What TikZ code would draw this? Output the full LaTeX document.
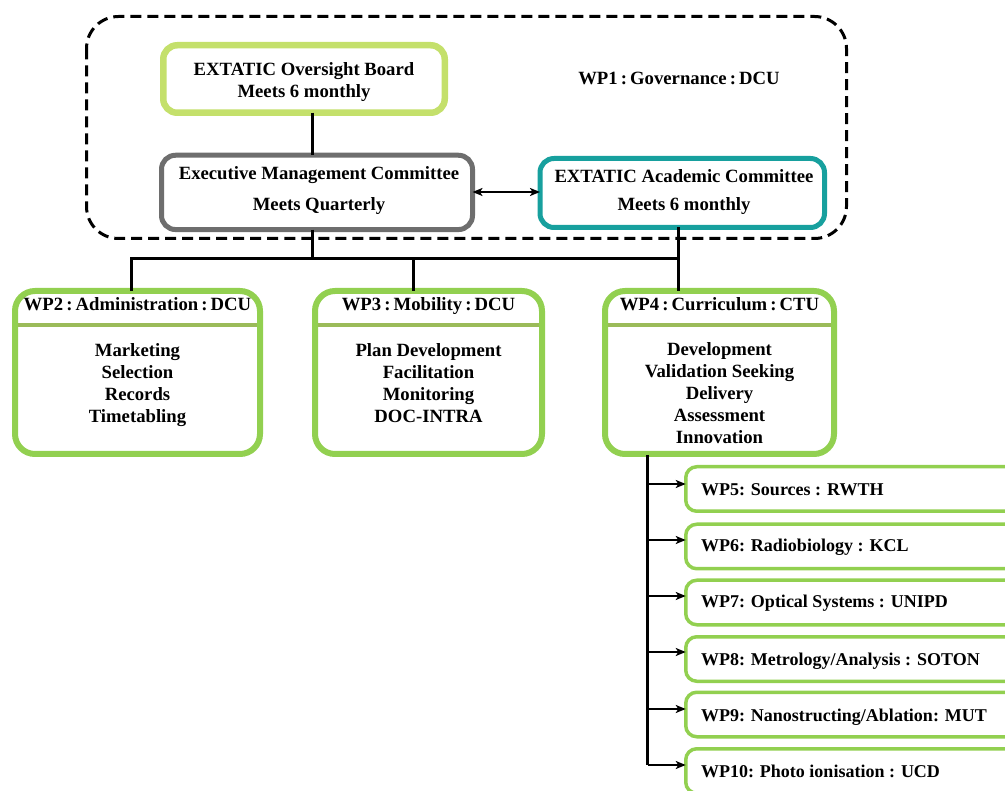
\documentclass[tikz,border=0pt]{standalone}
\usepackage{fontspec}
\setmainfont{Liberation Serif}
\usetikzlibrary{arrows.meta}
\definecolor{lgreen}{HTML}{C4E06B}
\definecolor{wgreen}{HTML}{92D050}
\definecolor{dgreen}{HTML}{9BBB59}
\definecolor{mgray}{HTML}{6E6E6E}
\definecolor{teal2}{HTML}{17A09E}
\tikzset{
  txt/.style={font=\fontsize{18.7}{22}\selectfont\bfseries, align=center, inner sep=0pt, outer sep=0pt},
  subtxt/.style={font=\fontsize{18}{22}\selectfont\bfseries, inner sep=0pt, outer sep=0pt, anchor=base west},
  topbox/.style={draw, rounded corners=14pt, fill=white, inner sep=0pt, outer sep=0pt},
  wpbox/.style={draw=wgreen, rounded corners=20pt, line width=6pt, fill=white, inner sep=0pt, outer sep=0pt},
  subbox/.style={draw=wgreen, rounded corners=11pt, line width=3.5pt, fill=white, inner sep=0pt, outer sep=0pt},
  conn/.style={line width=3pt},
  tip/.style={Stealth[length=10pt,width=8pt,inset=2.5pt]},
  arr/.style={line width=2.4pt, -{Stealth[length=10pt,width=8pt,inset=2.5pt]}},
}
\begin{document}
\begin{tikzpicture}[x=1pt,y=-1pt]
\useasboundingbox (0,0) rectangle (1005,791);
\clip (0,0) rectangle (1005,791);
% governance frame
\draw[line width=3pt, dash pattern=on 11pt off 6pt, rounded corners=32pt] (86.5,16.5) rectangle (846.5,238.5);
\node[txt, anchor=base] (wp1) at (679,85) {WP1\,:\,Governance\,:\,DCU};
% top boxes
\node[topbox, draw=lgreen, line width=6.5pt, minimum width=281.5pt, minimum height=67.5pt] (ob) at (304,79) {};
\node[txt, anchor=north] (obt) at (304,62.2) {EXTATIC Oversight Board\\Meets 6 monthly};
\node[topbox, draw=mgray, line width=5pt, minimum width=311pt, minimum height=74.3pt] (emc) at (317,192.4) {};
\node[txt, anchor=north, font=\fontsize{18.7}{31}\selectfont\bfseries] (emct) at (319,166.2) {Executive Management Committee\\Meets Quarterly};
\node[topbox, draw=teal2, line width=5pt, minimum width=284.5pt, minimum height=69pt] (ac) at (682.25,193) {};
\node[txt, anchor=north, font=\fontsize{18.7}{28}\selectfont\bfseries] (act) at (684,169.2) {EXTATIC Academic Committee\\Meets 6 monthly};
\coordinate (cx) at (312,0);
\draw[conn] (cx |- ob.south) -- (cx |- emc.north);
\draw[line width=1.8pt, {Stealth[length=10pt,width=8pt,inset=2.5pt]}-{Stealth[length=10pt,width=8pt,inset=2.5pt]}] (emc.east |- 0,192) -- (ac.west |- 0,192);
% WP2-4
\node[wpbox, minimum width=245pt, minimum height=163pt] (wp2) at (137.5,372.5) {};
\node[wpbox, minimum width=227pt, minimum height=163pt] (wp3) at (428.5,372.5) {};
\node[wpbox, minimum width=229pt, minimum height=163pt] (wp4) at (719.5,372.5) {};
\foreach \n in {wp2,wp3,wp4}{
  \draw[dgreen, line width=3.5pt] ([xshift=3pt]\n.west |- 0,325) -- ([xshift=-3pt]\n.east |- 0,325);
}
\node[txt, anchor=base] (h2) at (137.5,311) {WP2\,:\,Administration\,:\,DCU};
\node[txt, anchor=base] (h3) at (428.5,311) {WP3\,:\,Mobility\,:\,DCU};
\node[txt, anchor=base] (h4) at (719.5,311) {WP4\,:\,Curriculum\,:\,CTU};
\node[txt, anchor=north] (b2) at (137.5,343.2) {Marketing\\Selection\\Records\\Timetabling};
\node[txt, anchor=north] (b3) at (428.5,343.2) {Plan Development\\Facilitation\\Monitoring\\DOC-INTRA};
\node[txt, anchor=north] (b4) at (719.5,342.2) {Development\\Validation Seeking\\Delivery\\Assessment\\Innovation};
% connectors
\coordinate (jl) at (131.5,259);
\coordinate (jm) at (413,259);
\coordinate (jr) at (678,259);
\draw[conn] (cx |- emc.south) -- (cx |- jl);
\draw[conn] ([xshift=-1.5pt]jl) -- ([xshift=1.5pt]jr);
\draw[conn] ([yshift=-1.5pt]jl) -- (jl |- wp2.north);
\draw[conn] (jm) -- (jm |- wp3.north);
\draw[conn] (jr |- ac.south) -- (jr |- wp4.north);
% WP5-10
\foreach \i/\y/\b/\t in {5/489/496/{WP5: Sources : RWTH},6/546.5/552/{WP6: Radiobiology : KCL},7/602.5/608/{WP7: Optical Systems : UNIPD},8/659/665/{WP8: Metrology/Analysis : SOTON},9/714.5/721/{WP9: Nanostructing/Ablation: MUT},10/771/777/{WP10: Photo ionisation : UCD}}{
  \node[subbox, minimum width=345pt, minimum height=44.5pt, anchor=west] (s\i) at (685.75,\y) {};
  \node[subtxt] (t\i) at (701,\b) {\t};
}
\coordinate (trunk) at (647.5,455);
\coordinate (tend) at (647.5,766);
\draw[conn] (trunk) -- ([yshift=1.5pt]tend);
\foreach \i/\y in {5/484,6/540,7/596,8/652,9/709,10/765}{
  \draw[arr] (trunk |- 0,\y) -- (s\i.west |- 0,\y);
}
\end{tikzpicture}
\end{document}
